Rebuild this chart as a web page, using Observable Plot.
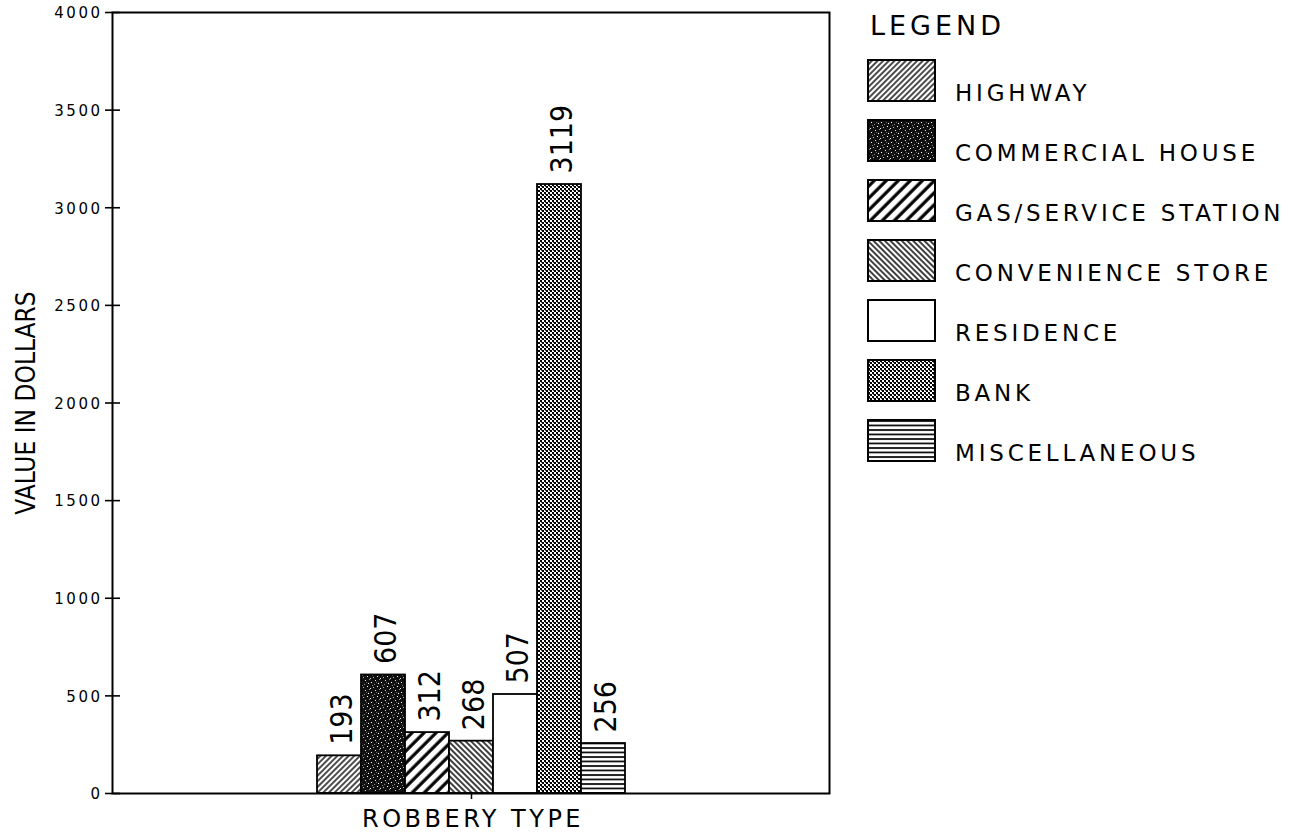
<!DOCTYPE html>
<html>
<head>
<meta charset="utf-8">
<script src="https://cdn.jsdelivr.net/npm/d3@7"></script>
<script src="https://cdn.jsdelivr.net/npm/@observablehq/plot@0.6"></script>
<style>
  html, body { margin: 0; padding: 0; background: #fff; }
  #wrap { position: relative; width: 1298px; height: 837px; overflow: hidden; }
  #legend { position: absolute; left: 860px; top: 0; }
</style>
</head>
<body>
<svg width="0" height="0" style="position:absolute">
  <defs>
    <pattern id="p-highway" patternUnits="userSpaceOnUse" width="4" height="4" patternTransform="rotate(45)">
      <rect width="4" height="4" fill="#fff"/>
      <line x1="1" y1="-1" x2="1" y2="5" stroke="#000" stroke-width="1.4"/>
    </pattern>
    <pattern id="p-commercial" patternUnits="userSpaceOnUse" width="10" height="10">
      <rect width="10" height="10" fill="#111"/>
      <rect x="1" y="2" width="1" height="1" fill="#fff"/>
      <rect x="5" y="0" width="1" height="1" fill="#ddd"/>
      <rect x="7" y="6" width="1" height="1" fill="#fff"/>
      <rect x="3" y="7" width="1" height="1" fill="#bbb"/>
      <rect x="8" y="3" width="1" height="1" fill="#fff"/>
      <rect x="4" y="4" width="1" height="1" fill="#888"/>
      <rect x="0" y="8" width="1" height="1" fill="#eee"/>
      <rect x="9" y="9" width="1" height="1" fill="#999"/>
      <rect x="6" y="2" width="1" height="1" fill="#666"/>
      <rect x="2" y="5" width="1" height="1" fill="#777"/>
    </pattern>
    <pattern id="p-gas" patternUnits="userSpaceOnUse" width="8.5" height="8.5" patternTransform="rotate(45)">
      <rect width="8.5" height="8.5" fill="#fff"/>
      <line x1="2" y1="-1" x2="2" y2="10" stroke="#000" stroke-width="3.2"/>
    </pattern>
    <pattern id="p-convenience" patternUnits="userSpaceOnUse" width="4" height="4" patternTransform="rotate(-45)">
      <rect width="4" height="4" fill="#fff"/>
      <line x1="1" y1="-1" x2="1" y2="5" stroke="#000" stroke-width="1.5"/>
    </pattern>
    <pattern id="p-bank" patternUnits="userSpaceOnUse" width="4" height="4">
      <rect width="4" height="4" fill="#fff"/>
      <rect x="0" y="0" width="2" height="2" fill="#000"/>
      <rect x="2" y="2" width="2" height="2" fill="#000"/>
      <rect x="1" y="2" width="1" height="1" fill="#555"/>
    </pattern>
    <pattern id="p-misc" patternUnits="userSpaceOnUse" width="4" height="4.5">
      <rect width="4" height="4.5" fill="#fff"/>
      <line x1="-1" y1="1" x2="5" y2="1" stroke="#000" stroke-width="1.7"/>
    </pattern>
  </defs>
</svg>
<div id="wrap"></div>
<script>
// ---- data ----
const categories = ["HIGHWAY", "COMMERCIAL HOUSE", "GAS/SERVICE STATION", "CONVENIENCE STORE", "RESIDENCE", "BANK", "MISCELLANEOUS"];
const values = [193, 607, 312, 268, 507, 3119, 256];
const yTicks = [0, 500, 1000, 1500, 2000, 2500, 3000, 3500, 4000];
const legendTitle = "LEGEND";
const xLabel = "ROBBERY TYPE";
const yLabel = "VALUE IN DOLLARS";

// ---- styles ----
const fills = ["url(#p-highway)", "url(#p-commercial)", "url(#p-gas)", "url(#p-convenience)", "#ffffff", "url(#p-bank)", "url(#p-misc)"];
const fillOf = new Map(categories.map((c, i) => [c, fills[i]]));
const narrow = "'Liberation Sans Narrow', 'DejaVu Sans Condensed', 'Arial Narrow', sans-serif";
const wide = "'DejaVu Sans', Verdana, sans-serif";

// horizontal-line symbol used for the "+" shaped y ticks crossing the axis
const hline = {draw(context, size) { const r = Math.sqrt(size / Math.PI); context.moveTo(-r, 0); context.lineTo(r, 0); }};

const data = categories.map((c, i) => ({type: c, value: values[i]}));

const chart = Plot.plot({
  width: 1298,
  height: 837,
  marginTop: 12,
  marginBottom: 44,
  marginLeft: 112,
  marginRight: 469,
  style: {background: "transparent", fontFamily: wide, color: "#000"},
  x: {domain: categories, paddingInner: 0, paddingOuter: 4.5, axis: null},
  y: {domain: [0, 4000], axis: null},
  color: {type: "identity"},
  marks: [
    Plot.barY(data, {x: "type", y: "value", fill: d => fillOf.get(d.type), stroke: "#000", strokeWidth: 1.8}),
    Plot.frame({stroke: "#000", strokeWidth: 2}),
    Plot.dot(yTicks, {y: d => d, frameAnchor: "left", symbol: hline, r: 7.5, stroke: "#000", strokeWidth: 1.6, fill: "none"}),
    Plot.text(yTicks, {y: d => d, frameAnchor: "left", text: d => String(d), textAnchor: "end", lineAnchor: "middle", dx: -10, dy: 1, fontSize: 15, fontFamily: wide, fill: "#000"}),
    Plot.axisX({ticks: [categories[3]], label: null, tickSize: 6, tickFormat: () => "", strokeWidth: 1.5}),
    Plot.text(data, {x: "type", y: "value", text: d => String(d.value), rotate: -90, textAnchor: "start", lineAnchor: "middle", dy: -11, dx: 3, fontSize: 30, fontFamily: narrow, fill: "#000"}),
    Plot.text([yLabel], {frameAnchor: "left", rotate: -90, textAnchor: "middle", lineAnchor: "middle", dx: -86, fontSize: 26, fontFamily: narrow, fill: "#000"}),
    Plot.text([xLabel], {frameAnchor: "bottom", textAnchor: "middle", lineAnchor: "middle", dy: 26, dx: 2, fontSize: 24, fontFamily: wide, fill: "#000"})
  ]
});
document.getElementById("wrap").appendChild(chart);
// letter spacing for the wide-font texts
const tickStrings = new Set(yTicks.map(String));
d3.select(chart).selectAll("text")
  .filter(function () { return tickStrings.has(this.textContent) && this.closest("g").getAttribute("font-size") !== "30"; })
  .style("letter-spacing", "2.5px");
d3.select(chart).selectAll("text").filter(function () { return this.textContent === xLabel; }).style("letter-spacing", "3.5px");

// ---- legend ----
const lg = d3.select("#wrap").append("svg")
  .attr("id", "legend")
  .attr("width", 438)
  .attr("height", 480)
  .style("font-family", wide);
lg.append("text")
  .attr("x", 10).attr("y", 35)
  .attr("font-size", 27)
  .style("letter-spacing", "4px")
  .text(legendTitle);
const items = lg.selectAll("g.item").data(categories).join("g")
  .attr("class", "item")
  .attr("transform", (d, i) => `translate(0,${60 + i * 60})`);
items.append("rect")
  .attr("x", 8).attr("y", 0).attr("width", 67).attr("height", 41)
  .attr("fill", d => fillOf.get(d))
  .attr("stroke", "#000").attr("stroke-width", 2);
items.append("text")
  .attr("x", 95).attr("y", 41)
  .attr("font-size", 23)
  .style("letter-spacing", "3.8px")
  .text(d => d);
</script>
</body>
</html>
